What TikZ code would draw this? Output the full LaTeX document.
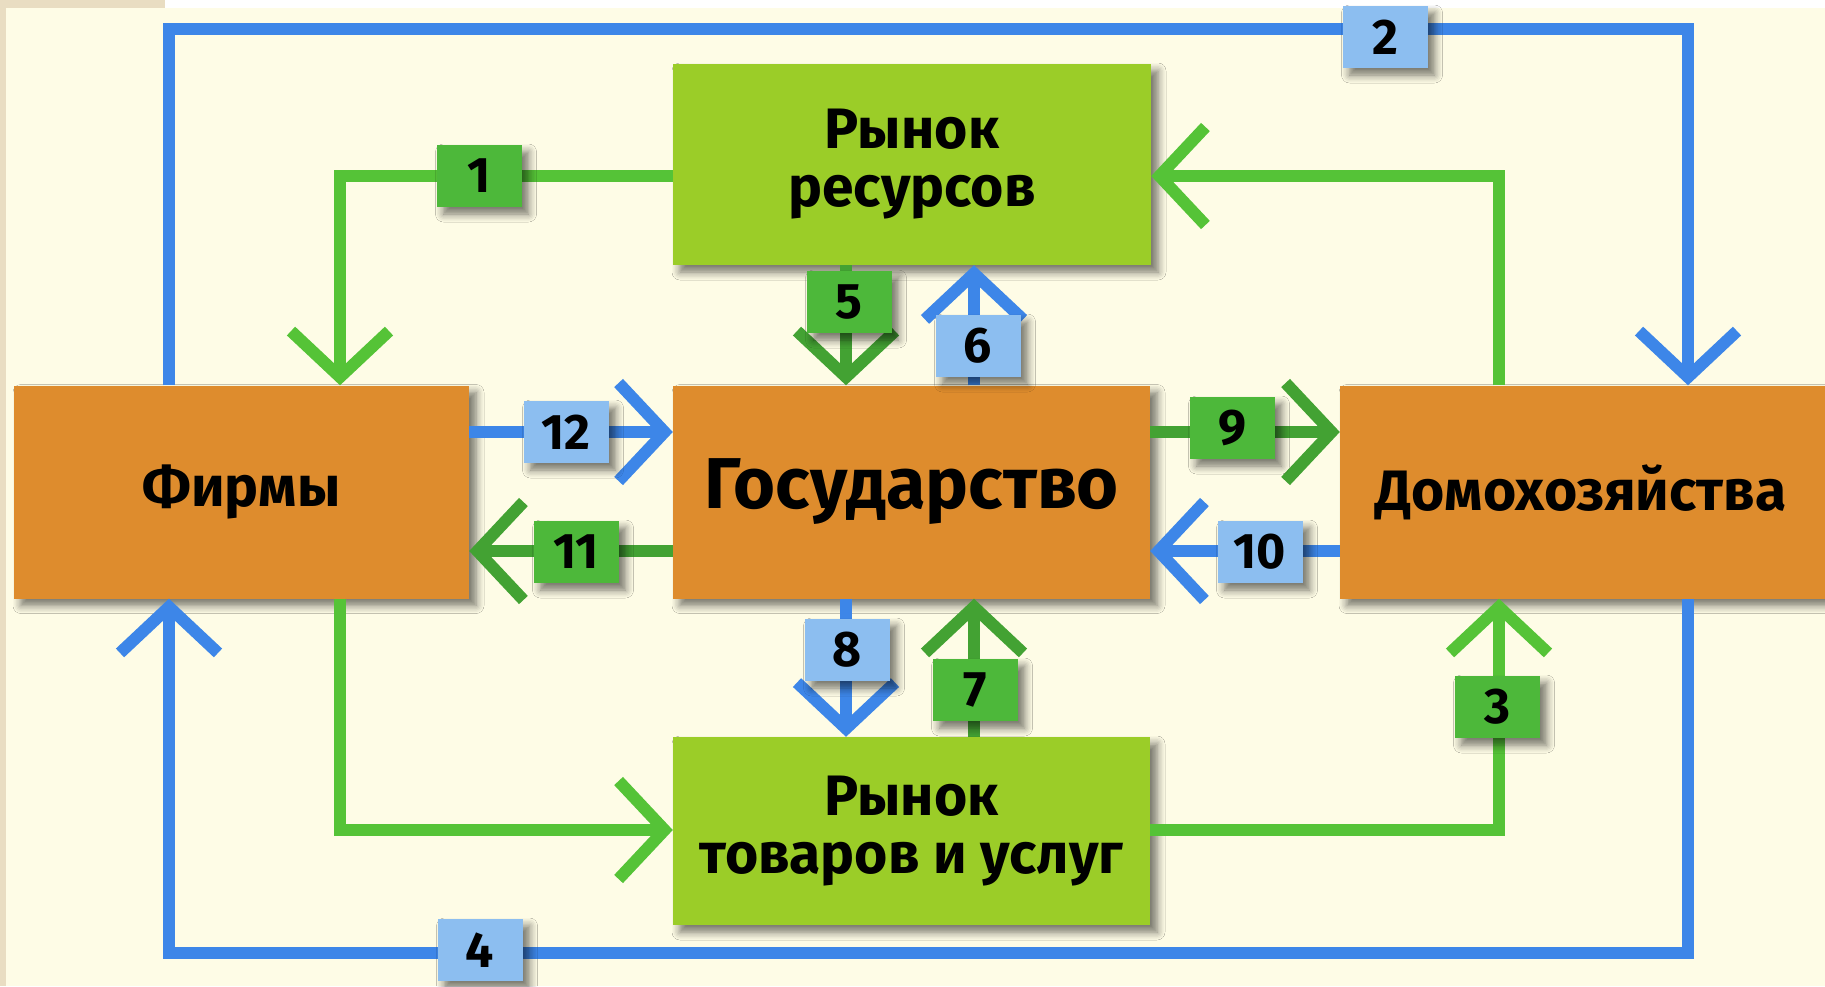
\documentclass[tikz,border=0pt]{standalone}
\usepackage{fontspec}
\setmainfont{Fira Sans}
\usetikzlibrary{arrows.meta,shadows.blur}
\definecolor{bg}{HTML}{FEFCE6}
\definecolor{edge}{HTML}{E9DDC2}
\definecolor{orng}{HTML}{DE8C2D}
\definecolor{lgreen}{HTML}{9BCD28}
\definecolor{gline}{HTML}{55C337}
\definecolor{dgline}{HTML}{43A233}
\definecolor{glbl}{HTML}{4DB83A}
\definecolor{bline}{HTML}{3D86E8}
\definecolor{blbl}{HTML}{8CBEF0}
\tikzset{
  shd/.style={blur shadow={shadow xshift=7pt, shadow yshift=-7pt, shadow blur radius=8pt, shadow blur steps=6, shadow opacity=55}},
  box/.style={rectangle, inner sep=0pt, align=center, text=black, shd,
    font=\bfseries\fontsize{57}{58}\selectfont},
  orbox/.style={box, fill=orng},
  grbox/.style={box, fill=lgreen},
  lbl/.style={rectangle, minimum width=85pt, minimum height=62pt, inner sep=0pt, shd,
    text=black, font=\bfseries\fontsize{50}{50}\selectfont},
  glab/.style={lbl, fill=glbl},
  blab/.style={lbl, fill=blbl},
  flowline/.style={line width=12pt},
  tipped/.style={flowline, -{Straight Barb[length=46pt,width=98pt]}},
  gflow/.style={tipped, draw=gline},
  dgflow/.style={tipped, draw=dgline},
  bflow/.style={tipped, draw=bline},
}
\begin{document}
\begin{tikzpicture}[x=1pt,y=-1pt]
\useasboundingbox (0,0) rectangle (1825,986);
\fill[bg] (0,0) rectangle (1825,986);
\fill[white] (165,0) rectangle (1825,8);
\fill[edge] (0,0) rectangle (165,8);
\fill[edge] (0,0) rectangle (6,986);

% boxes
\node[orbox, minimum width=455pt, minimum height=213pt] (firms) at (241.5,492) {Фирмы};
\node[orbox, minimum width=477pt, minimum height=213pt, font=\bfseries\fontsize{72}{76}\selectfont] (gov) at (911.5,492) {Государство};
\node[orbox, minimum width=490pt, minimum height=213pt] (home) at (1585,492) {\hspace*{-8pt}Домохозяйства};
\node[grbox, minimum width=478pt, minimum height=201pt] (rres) at (912,164.5) {Рынок\\ресурсов};
\node[grbox, minimum width=477pt, minimum height=188pt] (rgoods) at (911.5,831) {Рынок\\товаров и услуг};

% helper coordinates
\coordinate (xL) at (169,0);
\coordinate (xR) at (1688,0);
\coordinate (yT) at (0,29);
\coordinate (yB) at (0,953);
\coordinate (xG1) at (340,0);
\coordinate (xG2) at (1499,0);
\coordinate (yR) at (0,176);
\coordinate (yRg) at (0,830);
\coordinate (xA) at (846,0);
\coordinate (xB) at (974,0);
\coordinate (yU) at (0,432);
\coordinate (yD) at (0,551);

% outer blue loops
\draw[bflow] (xL |- firms.north) -- (xL |- yT) -- (xR |- yT) -- (xR |- home.north);
\draw[bflow] (xR |- home.south) -- (xR |- yB) -- (xL |- yB) -- (xL |- firms.south);

% green market flows
\draw[gflow] (rres.west |- yR) -- (xG1 |- yR) -- (xG1 |- firms.north);
\draw[gflow] (xG2 |- home.north) -- (xG2 |- yR) -- (rres.east |- yR);
\draw[gflow] (xG1 |- firms.south) -- (xG1 |- yRg) -- (rgoods.west |- yRg);
\draw[gflow] (rgoods.east |- yRg) -- (xG2 |- yRg) -- (xG2 |- home.south);

% government flows
\draw[dgflow] (xA |- rres.south) -- (xA |- gov.north);
\draw[bflow] (xB |- gov.north) -- (xB |- rres.south);
\draw[bflow] (xA |- gov.south) -- (xA |- rgoods.north);
\draw[dgflow] (xB |- rgoods.north) -- (xB |- gov.south);
\draw[bflow] (firms.east |- yU) -- (gov.west |- yU);
\draw[dgflow] (gov.west |- yD) -- (firms.east |- yD);
\draw[dgflow] (gov.east |- yU) -- (home.west |- yU);
\draw[bflow] (home.west |- yD) -- (gov.east |- yD);

% labels
\node[glab] (l1) at (479,176) {1};
\node[blab] (l2) at (1385,37) {2};
\node[glab] (l3) at (1497,707) {3};
\node[blab] (l4) at (480,950) {4};
\node[glab] (l5) at (849,302) {5};
\node[blab] (l6) at (978,346) {6};
\node[glab] (l7) at (975,690) {7};
\node[blab] (l8) at (847,650) {8};
\node[glab] (l9) at (1232,428) {9};
\node[blab] (l10) at (1260,552) {10};
\node[glab] (l11) at (576,552) {11};
\node[blab] (l12) at (566,432) {12};
\end{tikzpicture}
\end{document}
